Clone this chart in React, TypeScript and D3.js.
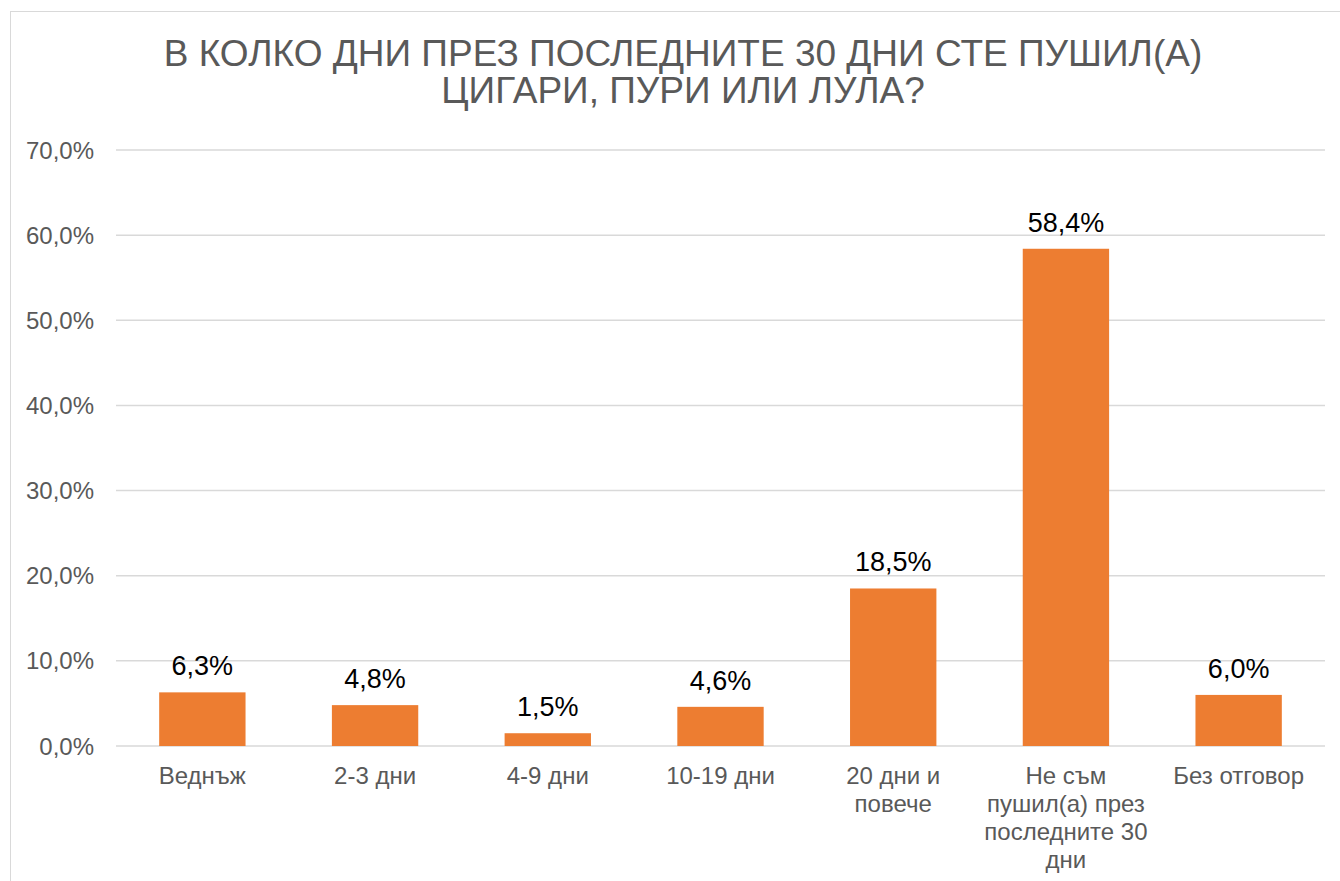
import React from 'react';
import * as d3 from 'd3';

const W = 1340;
const H = 881;

const titleLines = ['В КОЛКО ДНИ ПРЕЗ ПОСЛЕДНИТЕ 30 ДНИ СТЕ ПУШИЛ(А)', 'ЦИГАРИ, ПУРИ ИЛИ ЛУЛА?'];
const categories = ['Веднъж', '2-3 дни', '4-9 дни', '10-19 дни', '20 дни и\nповече', 'Не съм\nпушил(а) през\nпоследните 30\nдни', 'Без отговор'];
const values = [6.3, 4.8, 1.5, 4.6, 18.5, 58.4, 6.0];
const yTicks = [0, 10, 20, 30, 40, 50, 60, 70];

const font = '"Liberation Sans", Arial, sans-serif';
const fmt = (v: number) => v.toFixed(1).replace('.', ',') + '%';

export default function App() {
  const margin = { left: 116, right: 15, top: 150, bottom: 135 };
  const x = d3.scaleBand<string>()
    .domain(categories)
    .range([margin.left, W - margin.right])
    .paddingInner(0.5)
    .paddingOuter(0.25);
  const y = d3.scaleLinear().domain([0, 70]).range([H - margin.bottom, margin.top]);

  return (
    <svg width={W} height={H} style={{ position: 'absolute', left: 0, top: 0, background: '#fff' }} fontFamily={font}>
      <rect x={10.5} y={11.5} width={W} height={H} fill="#fff" stroke="#d9d9d9" strokeWidth={1} />
      {titleLines.map((t, i) => (
        <text key={i} x={683} y={66 + i * 37} textAnchor="middle" fontSize={37} fill="#595959">{t}</text>
      ))}
      {yTicks.map(t => (
        <g key={t}>
          <line x1={margin.left} x2={W - margin.right} y1={y(t)} y2={y(t)} stroke="#d9d9d9" strokeWidth={1.5} />
          <text x={94} y={y(t) + 8.5} textAnchor="end" fontSize={24} fill="#595959">{fmt(t)}</text>
        </g>
      ))}
      {categories.map((c, i) => {
        const bx = x(c)!;
        const bw = x.bandwidth();
        const cx = bx + bw / 2;
        return (
          <g key={c}>
            <rect x={bx} y={y(values[i])} width={bw} height={y(0) - y(values[i])} fill="#ED7D31" />
            <text x={cx} y={y(values[i]) - 17} textAnchor="middle" fontSize={27} fill="#000">{fmt(values[i])}</text>
            {c.split('\n').map((ln, j) => (
              <text key={j} x={cx} y={784 + j * 28} textAnchor="middle" fontSize={24} fill="#595959">{ln}</text>
            ))}
          </g>
        );
      })}
    </svg>
  );
}
